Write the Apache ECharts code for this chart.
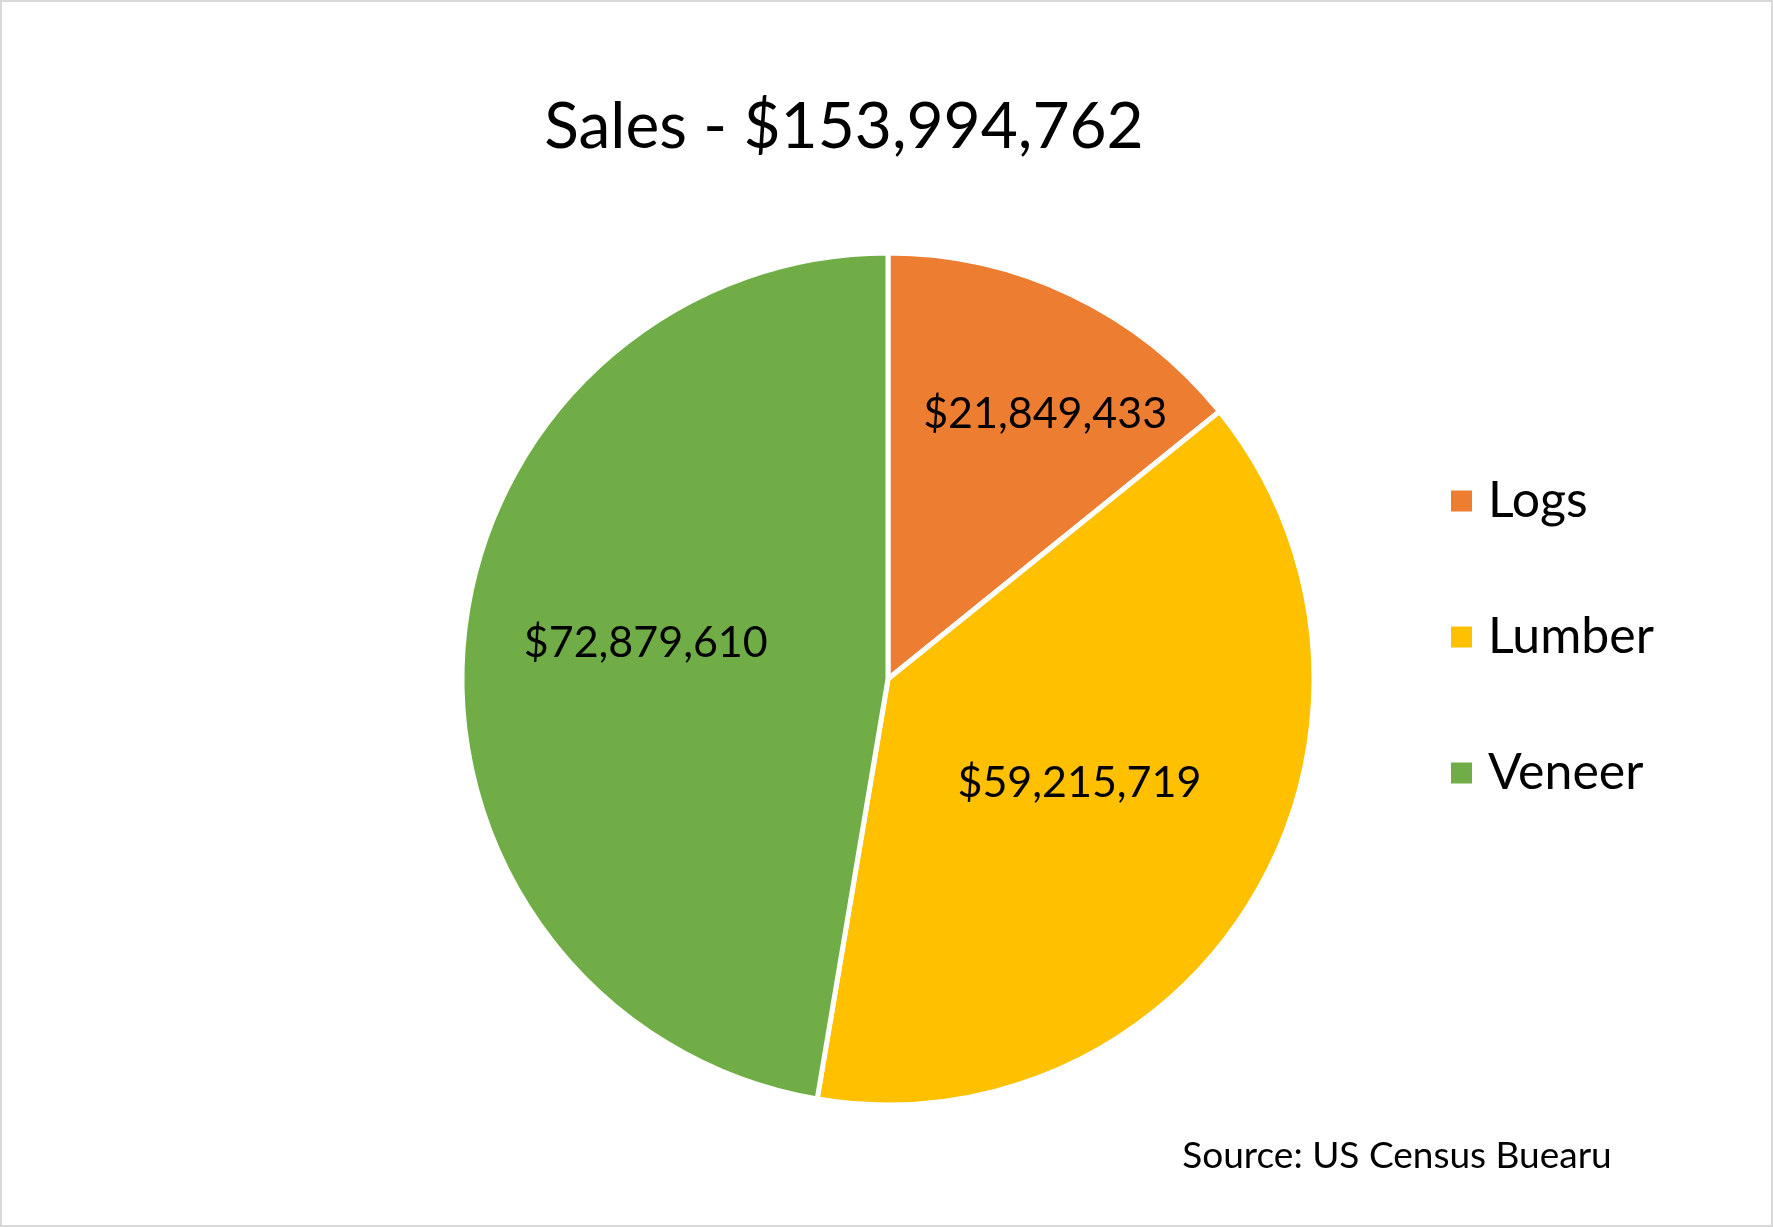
<!DOCTYPE html>
<html>
<head>
<meta charset="utf-8">
<script src="https://cdn.jsdelivr.net/npm/echarts@6/dist/echarts.min.js"></script>
<style>
  html, body { margin: 0; padding: 0; background: #fff; }
  #main { width: 1773px; height: 1227px; box-sizing: border-box; border: 2px solid #d9d9d9; }
</style>
</head>
<body>
<div id="main"></div>
<script>
// 数据
var categories = ['Logs', 'Lumber', 'Veneer'];
var sales = [21849433, 59215719, 72879610];
var colors = ['#ED7D31', '#FFC000', '#70AD47'];
var titleText = 'Sales - $153,994,762';
var sourceText = 'Source: US Census Buearu';
// 标签微调（像素）
var labelShift = [[64, -70], [5, -5], [-27, -18]];

var font = 'Lato';

function money(v) {
  return '$' + v.toString().replace(/\B(?=(\d{3})+(?!\d))/g, ',');
}

var pieData = [];
for (var i = 0; i < categories.length; i++) {
  pieData.push({ name: categories[i], value: sales[i], itemStyle: { color: colors[i] } });
}

var myChart = echarts.init(document.getElementById('main'));
var option = {
  animation: false,
  title: [
    {
      text: titleText,
      left: 837, top: 82, textAlign: 'center',
      textStyle: { fontFamily: font, fontSize: 64, fontWeight: 'normal', color: '#000', lineHeight: 77 }
    },
    {
      text: sourceText,
      left: 1390, top: 1127, textAlign: 'center',
      textStyle: { fontFamily: font, fontSize: 37, fontWeight: 'normal', color: '#000', lineHeight: 44 }
    }
  ],
  legend: {
    orient: 'vertical',
    left: 1442, top: 467,
    icon: 'rect',
    itemWidth: 23, itemHeight: 23,
    itemGap: 82,
    data: categories,
    textStyle: { fontFamily: font, fontSize: 50, color: '#000', lineHeight: 54, padding: [0, 0, 0, 10] }
  },
  series: [
    {
      type: 'pie',
      center: [886, 677],
      radius: 426,
      startAngle: 90,
      clockwise: true,
      data: pieData,
      itemStyle: { borderColor: '#fff', borderWidth: 5 },
      label: {
        position: 'inside',
        fontFamily: font, fontSize: 43, color: '#000',
        formatter: function (p) { return money(p.value); }
      },
      labelLine: { show: false },
      labelLayout: function (p) {
        return { dx: labelShift[p.dataIndex][0], dy: labelShift[p.dataIndex][1] };
      },
      emphasis: { disabled: true }
    }
  ]
};
myChart.setOption(option);
</script>
</body>
</html>
